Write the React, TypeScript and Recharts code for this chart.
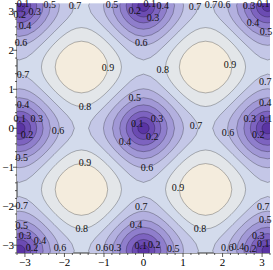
import { ScatterChart, Scatter, XAxis, YAxis, CartesianGrid } from 'recharts';

// band colours, lowest band (0-0.1) first
const bandColors = [
  '#5a34a3', '#6b4bb2', '#7d63c0', '#8f7ecc', '#a198d6',
  '#b3b0df', '#c4c7e7', '#d3dbec', '#e3e6e9', '#f4ecdd',
];

// wells (value 0) and peaks (value ~1)
const wellCenters = [
  [-3.14, 3.14], [0, 3.14], [3.14, 3.14],
  [-3.14, 0], [0, 0], [3.14, 0],
  [-3.14, -3.14], [0, -3.14], [3.14, -3.14],
];
const peakCenters = [[-1.57, 1.57], [1.57, 1.57], [-1.57, -1.57], [1.57, -1.57]];

// contour radius read around a well, 0° (towards +x) to 90°
const wellLevels = [0.7, 0.6, 0.5, 0.4, 0.3, 0.2, 0.1];
const wellRadii = [
  [1.39, 1.34, 1.258, 1.183, 1.134, 1.106, 1.097, 1.106, 1.134, 1.183, 1.258, 1.34, 1.39],
  [1.013, 1.002, 0.979, 0.952, 0.929, 0.915, 0.91, 0.915, 0.929, 0.952, 0.979, 1.002, 1.013],
  [0.785, 0.772, 0.75, 0.741, 0.75, 0.772, 0.785],
  [0.601, 0.597, 0.586, 0.582, 0.586, 0.597, 0.601],
  [0.438, 0.437, 0.433, 0.431, 0.433, 0.437, 0.438],
  [0.287, 0.286, 0.285, 0.285, 0.285, 0.286, 0.287],
  [0.142, 0.142, 0.141, 0.141, 0.141, 0.142, 0.142],
];

// contour radius read around a peak
const peakLevels = [0.8, 0.9];
const peakRadii = [
  [1.013, 1.002, 0.979, 0.952, 0.929, 0.915, 0.91, 0.915, 0.929, 0.952, 0.979, 1.002, 1.013],
  [0.664, 0.658, 0.644, 0.638, 0.644, 0.658, 0.664],
];

const majorTicks = [-3, -2, -1, 0, 1, 2, 3];
const minorTicks = [
  -3.2, -2.8, -2.6, -2.4, -2.2, -1.8, -1.6, -1.4, -1.2, -0.8, -0.6, -0.4, -0.2,
  0.2, 0.4, 0.6, 0.8, 1.2, 1.4, 1.6, 1.8, 2.2, 2.4, 2.6, 2.8, 3.2,
];
const allTicks = [...majorTicks, ...minorTicks].sort((a, b) => a - b);

// contour labels: text, x, y
const labels: [string, number, number][] = [
  ['0.1', -3.05, 3.19], ['0.3', -2.75, 2.99], ['0.2', -3.13, 2.91], ['0.4', -3.0, 2.63],
  ['0.5', -2.37, 3.17], ['0.7', -1.73, 3.14], ['0.5', -0.8, 3.17], ['0.2', -0.22, 3.01],
  ['0.1', 0.16, 3.19], ['0.4', 0.49, 3.14], ['0.3', 0.24, 2.83], ['0.7', 1.3, 3.12],
  ['0.7', 1.71, 3.17], ['0.6', 2.04, 3.17], ['0.3', 2.67, 3.14], ['0.1', 3.03, 3.19],
  ['0.4', 2.77, 2.71], ['0.5', 3.1, 2.47], ['0.6', -3.1, 2.19], ['0.6', -0.06, 2.19],
  ['0.9', -0.9, 1.57], ['0.8', 0.49, 1.5], ['0.9', 2.19, 1.63], ['0.7', -3.05, 1.39],
  ['0.7', 3.08, 1.19], ['0.5', -0.22, 0.78], ['0.4', -3.05, 0.62], ['0.4', 3.08, 0.65],
  ['0.8', -1.48, 0.57], ['0.1', -3.13, 0.24], ['0.3', -2.7, 0.26], ['0.3', 0.34, 0.26],
  ['0.3', 2.69, 0.26], ['0.1', 3.1, 0.26], ['0.1', -0.16, 0.13], ['0.7', 1.33, 0.08],
  ['0.6', -2.16, -0.05], ['0.6', 2.14, -0.1], ['0.2', -2.95, -0.15], ['0.2', 0.22, -0.2],
  ['0.2', 2.9, -0.17], ['0.4', -0.47, -0.35], ['0.5', -3.08, -0.74], ['0.9', -1.48, -0.87],
  ['0.6', 0.09, -1.0], ['0.9', 0.87, -1.53], ['0.7', -3.08, -1.97], ['0.7', -0.06, -2.02],
  ['0.7', 3.03, -2.02], ['0.5', 3.08, -2.35], ['0.4', -0.19, -2.46], ['0.5', -3.08, -2.5],
  ['0.8', -1.56, -2.56], ['0.8', 1.43, -2.56], ['0.3', -3.0, -2.76], ['0.3', 2.9, -2.74],
  ['0.4', -2.62, -2.88], ['0.2', -2.82, -3.06], ['0.6', -2.11, -3.05], ['0.6', -1.05, -3.05],
  ['0.3', -0.72, -3.05], ['0.1', -0.07, -3.0], ['0.2', 0.27, -2.97], ['0.5', 0.75, -3.08],
  ['0.6', 2.12, -3.05], ['0.4', 2.39, -3.03], ['0.2', 2.7, -3.08], ['0.1', 3.03, -2.95],
];

const FONT = "'Liberation Serif', 'Times New Roman', serif";
const AXIS = '#333';

function loop(c: number[], radii: number[]) {
  const n = radii.length - 1;
  const pts: { x: number; y: number }[] = [];
  for (let q = 0; q < 4; q++) {
    for (let i = 0; i < n; i++) {
      const a = ((q * 90 + (i * 90) / n) * Math.PI) / 180;
      pts.push({ x: c[0] + radii[i] * Math.cos(a), y: c[1] + radii[i] * Math.sin(a) });
    }
  }
  return pts;
}

const fmt = (v: number) => (v < 0 ? `\u2212${-v}` : `${v}`);
const isMajor = (v: number) => majorTicks.includes(v);

function BottomTick({ x, y, payload }: any) {
  const v = payload.value;
  return (
    <g>
      <line x1={x} x2={x} y1={y} y2={y + (isMajor(v) ? 4 : 2)} stroke={AXIS} strokeWidth={0.8} />
      {isMajor(v) && (
        <text x={x} y={y + 13} textAnchor="middle" fontSize={11} fontFamily={FONT} fill="#000">
          {fmt(v)}
        </text>
      )}
    </g>
  );
}

function LeftTick({ x, y, payload }: any) {
  const v = payload.value;
  return (
    <g>
      <line x1={x} x2={x - (isMajor(v) ? 4 : 2)} y1={y} y2={y} stroke={AXIS} strokeWidth={0.8} />
      {isMajor(v) && (
        <text x={x - 3} y={y + 4} textAnchor="end" fontSize={11} fontFamily={FONT} fill="#000">
          {fmt(v)}
        </text>
      )}
    </g>
  );
}

function TopTick({ x, y, payload }: any) {
  const v = payload.value;
  return <line x1={x} x2={x} y1={y} y2={y + (isMajor(v) ? 3 : 1.5)} stroke={AXIS} strokeWidth={0.8} />;
}

function RightTick({ x, y, payload }: any) {
  const v = payload.value;
  return <line x1={x} x2={x - (isMajor(v) ? 3 : 1.5)} y1={y} y2={y} stroke={AXIS} strokeWidth={0.8} />;
}

const Empty = () => <g />;

function LabelShape({ cx, cy, payload }: any) {
  return (
    <text x={cx} y={cy} dy="0.35em" textAnchor="middle" fontSize={10} fontFamily={FONT} fill="#111">
      {payload.t}
    </text>
  );
}

function contour(key: string, pts: { x: number; y: number }[], fill: string) {
  return (
    <Scatter
      key={key}
      data={pts}
      shape={Empty}
      line={{ fill, stroke: '#000', strokeOpacity: 0.38, strokeWidth: 0.7 }}
      lineType="joint"
      lineJointType="linearClosed"
      legendType="none"
      isAnimationActive={false}
    />
  );
}

export default function App() {
  const labelData = labels.map(([t, x, y]) => ({ t, x, y }));

  const series: any[] = [];
  wellLevels.forEach((lv, li) => {
    wellCenters.forEach((c, ci) => {
      series.push(contour(`w${lv}-${ci}`, loop(c, wellRadii[li]), bandColors[Math.round(lv * 10) - 1]));
    });
  });
  peakLevels.forEach((lv, li) => {
    peakCenters.forEach((c, ci) => {
      series.push(contour(`p${lv}-${ci}`, loop(c, peakRadii[li]), bandColors[Math.round(lv * 10)]));
    });
  });

  return (
    <div style={{ position: 'absolute', left: 0, top: 0 }}>
      <ScatterChart width={273} height={270} margin={{ top: 3.5, right: 3, bottom: 0, left: 0 }}>
        <CartesianGrid fill={bandColors[7]} fillOpacity={1} horizontal={false} vertical={false} />
        <XAxis
          type="number"
          dataKey="x"
          domain={[-3.2, 3.2]}
          allowDataOverflow
          ticks={allTicks}
          interval={0}
          height={17}
          tickSize={0}
          tickMargin={0}
          tickLine={false}
          tick={BottomTick}
          axisLine={{ stroke: AXIS }}
        />
        <XAxis
          xAxisId="top"
          orientation="top"
          type="number"
          dataKey="x"
          domain={[-3.2, 3.2]}
          ticks={allTicks}
          interval={0}
          height={0}
          tickSize={0}
          tickMargin={0}
          tickLine={false}
          tick={TopTick}
          axisLine={{ stroke: AXIS }}
        />
        <YAxis
          type="number"
          dataKey="y"
          domain={[-3.2, 3.2]}
          allowDataOverflow
          ticks={allTicks}
          interval={0}
          width={17}
          tickSize={0}
          tickMargin={0}
          tickLine={false}
          tick={LeftTick}
          axisLine={{ stroke: AXIS }}
        />
        <YAxis
          yAxisId="right"
          orientation="right"
          type="number"
          dataKey="y"
          domain={[-3.2, 3.2]}
          ticks={allTicks}
          interval={0}
          width={0}
          tickSize={0}
          tickMargin={0}
          tickLine={false}
          tick={RightTick}
          axisLine={{ stroke: AXIS }}
        />
        {series}
        <Scatter
          data={labelData}
          xAxisId="top"
          yAxisId="right"
          shape={LabelShape}
          legendType="none"
          isAnimationActive={false}
        />
      </ScatterChart>
    </div>
  );
}
